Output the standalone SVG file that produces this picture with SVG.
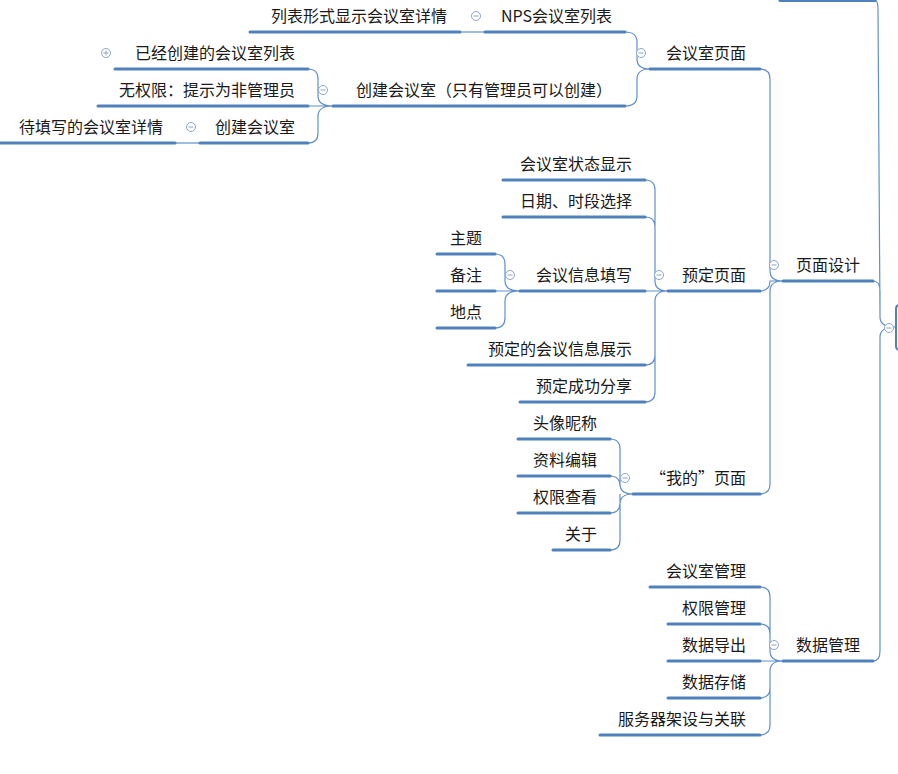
<svg xmlns="http://www.w3.org/2000/svg" width="898" height="774" viewBox="0 0 898 774">
<style>
text{font-family:"Noto Sans CJK SC","Microsoft YaHei",sans-serif;font-size:16px;fill:#1a1a1a;text-anchor:end}
.u{stroke:#4f81bd;stroke-width:3;stroke-linecap:round}
.c{fill:none;stroke:#5f8fcf;stroke-width:1.2}
.i circle{fill:#fff;stroke:#8ea6c8;stroke-width:1}
.i line{stroke:#8ea6c8;stroke-width:1}
</style>
<rect width="898" height="774" fill="#fff"/>
<g id="connectors">
<path class="c" d="M460,32 L485,32"/>
<path class="c" d="M625,32 Q637,32 637,42 L637,59 Q637,69 650,69 M625,106 Q637,106 637,96 L637,79 Q637,69 650,69"/>
<path class="c" d="M308,69 Q318,69 318,79 L318,96 Q318,106 333,106 M308,106 L333,106 M308,143 Q318,143 318,133 L318,116 Q318,106 333,106"/>
<path class="c" d="M175,143 L200,143"/>
<path class="c" d="M760,69 Q770,69 770,79 L770,271 Q770,281 783,281 M760,291 Q770,291 770,281 L783,281 M760,494 Q770,494 770,484 L770,291 Q770,281 783,281"/>
<path class="c" d="M645,180 Q655,180 655,190 L655,281 Q655,291 668,291 M645,217 Q655,217 655,227 L655,281 M645,291 L668,291 M645,365 Q655,365 655,355 L655,301 Q655,291 668,291 M645,402 Q655,402 655,392 L655,301"/>
<path class="c" d="M495,254 Q505,254 505,264 L505,281 Q505,291 520,291 M495,291 L520,291 M495,328 Q505,328 505,318 L505,301 Q505,291 520,291"/>
<path class="c" d="M610,439 Q620,439 620,449 L620,484 Q620,494 633,494 M610,476 Q620,476 620,486 M610,513 Q620,513 620,503 L620,494 M610,550 Q620,550 620,540 L620,504 Q620,494 633,494"/>
<path class="c" d="M760,587 Q770,587 770,597 L770,651 Q770,661 783,661 M760,624 Q770,624 770,634 L770,651 M760,661 L783,661 M760,698 Q770,698 770,688 L770,671 Q770,661 783,661 M760,735 Q770,735 770,725 L770,671"/>
<path class="c" d="M873,281 Q880,281 880,291 L880,317 Q880,327 895,327 M873,661 Q880,661 880,651 L880,337 Q880,327 895,327 M875,0.5 Q878,0.5 878,10 L880,317"/>
</g>
<g id="root"><path d="M906,305 L900,305 Q896,305 896,309 L896,346 Q896,350 900,350 L906,350" fill="#fff" stroke="#4f81bd" stroke-width="2"/><line class="u" x1="780" y1="0.5" x2="875" y2="0.5"/></g>
<g id="n-list"><line class="u" x1="250" y1="32" x2="460" y2="32"/><text x="447" y="22">列表形式显示会议室详情</text></g>
<g id="n-nps"><line class="u" x1="485" y1="32" x2="625" y2="32"/><text x="612" y="22">NPS会议室列表</text></g>
<g id="n-room"><line class="u" x1="650" y1="69" x2="760" y2="69"/><text x="746" y="59">会议室页面</text></g>
<g id="n-created"><line class="u" x1="115" y1="69" x2="308" y2="69"/><text x="295" y="59">已经创建的会议室列表</text></g>
<g id="n-noperm"><line class="u" x1="98" y1="106" x2="308" y2="106"/><text x="295" y="96">无权限：提示为非管理员</text></g>
<g id="n-create-admin"><line class="u" x1="333" y1="106" x2="625" y2="106"/><text x="612" y="96">创建会议室（只有管理员可以创建）</text></g>
<g id="n-create"><line class="u" x1="200" y1="143" x2="308" y2="143"/><text x="295" y="133">创建会议室</text></g>
<g id="n-fill"><line class="u" x1="0" y1="143" x2="175" y2="143"/><text x="163" y="133">待填写的会议室详情</text></g>
<g id="n-design"><line class="u" x1="783" y1="281" x2="873" y2="281"/><text x="860" y="271">页面设计</text></g>
<g id="n-book"><line class="u" x1="668" y1="291" x2="760" y2="291"/><text x="746" y="281">预定页面</text></g>
<g id="n-status"><line class="u" x1="503" y1="180" x2="645" y2="180"/><text x="632" y="170">会议室状态显示</text></g>
<g id="n-date"><line class="u" x1="503" y1="217" x2="645" y2="217"/><text x="632" y="207">日期、时段选择</text></g>
<g id="n-info"><line class="u" x1="520" y1="291" x2="645" y2="291"/><text x="632" y="281">会议信息填写</text></g>
<g id="n-topic"><line class="u" x1="437" y1="254" x2="495" y2="254"/><text x="482" y="244">主题</text></g>
<g id="n-note"><line class="u" x1="437" y1="291" x2="495" y2="291"/><text x="482" y="281">备注</text></g>
<g id="n-place"><line class="u" x1="437" y1="328" x2="495" y2="328"/><text x="482" y="318">地点</text></g>
<g id="n-show"><line class="u" x1="468" y1="365" x2="645" y2="365"/><text x="632" y="355">预定的会议信息展示</text></g>
<g id="n-share"><line class="u" x1="520" y1="402" x2="645" y2="402"/><text x="632" y="392">预定成功分享</text></g>
<g id="n-mine"><line class="u" x1="633" y1="494" x2="760" y2="494"/><text x="746" y="484">“我的”页面</text></g>
<g id="n-avatar"><line class="u" x1="518" y1="439" x2="610" y2="439"/><text x="597" y="429">头像昵称</text></g>
<g id="n-edit"><line class="u" x1="518" y1="476" x2="610" y2="476"/><text x="597" y="466">资料编辑</text></g>
<g id="n-perm"><line class="u" x1="518" y1="513" x2="610" y2="513"/><text x="597" y="503">权限查看</text></g>
<g id="n-about"><line class="u" x1="553" y1="550" x2="610" y2="550"/><text x="597" y="540">关于</text></g>
<g id="n-data"><line class="u" x1="783" y1="661" x2="873" y2="661"/><text x="860" y="651">数据管理</text></g>
<g id="n-roommgr"><line class="u" x1="650" y1="587" x2="760" y2="587"/><text x="746" y="577">会议室管理</text></g>
<g id="n-permmgr"><line class="u" x1="668" y1="624" x2="760" y2="624"/><text x="746" y="614">权限管理</text></g>
<g id="n-export"><line class="u" x1="668" y1="661" x2="760" y2="661"/><text x="746" y="651">数据导出</text></g>
<g id="n-store"><line class="u" x1="668" y1="698" x2="760" y2="698"/><text x="746" y="688">数据存储</text></g>
<g id="n-server"><line class="u" x1="600" y1="735" x2="760" y2="735"/><text x="746" y="725">服务器架设与关联</text></g>
<g id="icons" class="i">
<circle cx="476" cy="16" r="4.5"/><line x1="473.5" y1="16" x2="478.5" y2="16"/>
<circle cx="641" cy="53" r="4.5"/><line x1="638.5" y1="53" x2="643.5" y2="53"/>
<circle cx="106" cy="53" r="4.5"/><line x1="103.5" y1="53" x2="108.5" y2="53"/><line x1="106" y1="50.5" x2="106" y2="55.5"/>
<circle cx="323" cy="90" r="4.5"/><line x1="320.5" y1="90" x2="325.5" y2="90"/>
<circle cx="191" cy="127" r="4.5"/><line x1="188.5" y1="127" x2="193.5" y2="127"/>
<circle cx="774" cy="265" r="4.5"/><line x1="771.5" y1="265" x2="776.5" y2="265"/>
<circle cx="659" cy="275" r="4.5"/><line x1="656.5" y1="275" x2="661.5" y2="275"/>
<circle cx="510" cy="275" r="4.5"/><line x1="507.5" y1="275" x2="512.5" y2="275"/>
<circle cx="625" cy="478" r="4.5"/><line x1="622.5" y1="478" x2="627.5" y2="478"/>
<circle cx="774" cy="645" r="4.5"/><line x1="771.5" y1="645" x2="776.5" y2="645"/>
<circle cx="889" cy="328" r="4.5"/><line x1="886.5" y1="328" x2="891.5" y2="328"/>
</g>
</svg>
